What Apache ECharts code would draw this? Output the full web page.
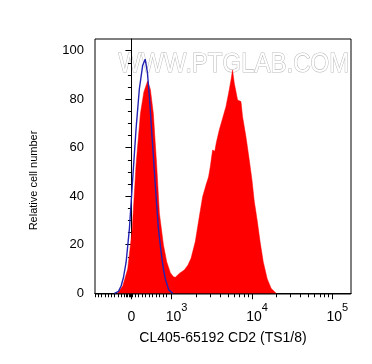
<!DOCTYPE html>
<html>
<head>
<meta charset="utf-8">
<script src="https://cdn.jsdelivr.net/npm/echarts@6/dist/echarts.min.js"></script>
<style>
  html, body { margin: 0; padding: 0; background: #fff; }
  #chart { width: 372px; height: 364px; }
</style>
</head>
<body>
<div id="chart"></div>
<script>
// x is in display units: 0 -> 0, 10^3 -> 0.5, one decade = 1
const xTickVals = [0, 0.5, 1.5, 2.5];
const xTickBase = ['0', '10', '10', '10'];
const xTickExp = ['', '3', '4', '5'];
const xMinorTicks = [
  -0.447, -0.410, -0.373, -0.329, -0.286, -0.248, -0.211, -0.168, -0.124,
  -0.087, -0.068, -0.050, -0.031, -0.012, 0.012,
  0.043, 0.087, 0.130, 0.174, 0.217, 0.261, 0.304, 0.348, 0.391, 0.435,
  0.801, 0.977, 1.102, 1.199, 1.278, 1.345, 1.403, 1.454,
  1.801, 1.977, 2.102, 2.199, 2.278, 2.345, 2.403, 2.454
];
const yTickVals = [0, 20, 40, 60, 80, 100];
const yMinorTicks = [5, 10, 15, 25, 30, 35, 45, 50, 55, 65, 70, 75, 85, 90, 95];

// CD2 stained sample (red fill)
const stainedX = [-0.174, -0.108, -0.046, 0.009, 0.058, 0.112, 0.155, 0.202, 0.236, 0.273,
  0.314, 0.348, 0.398, 0.439, 0.484, 0.522, 0.547, 0.596, 0.658, 0.702,
  0.742, 0.795, 0.845, 0.886, 0.928, 0.960, 0.981, 1.010, 1.037, 1.056,
  1.093, 1.134, 1.176, 1.209, 1.239, 1.258, 1.280, 1.321, 1.342, 1.363,
  1.383, 1.425, 1.466, 1.500, 1.528, 1.565, 1.602, 1.640, 1.689, 1.739, 1.801];
const stainedY = [0, 3, 10, 26, 53, 74, 83, 87.5, 84, 74,
  53, 33, 20, 13, 8.5, 6.8, 6.6, 8.2, 9.6, 11.5,
  14.4, 21.3, 31.6, 39.8, 44.6, 48, 52, 59, 58.5, 62,
  67.3, 72, 76.9, 82.4, 87.9, 92, 86.6, 79.7, 80.5, 79,
  72.8, 64.5, 55, 46.7, 38, 30, 21, 13, 6, 2, 0];

// isotype control (blue line)
const isoX = [-0.211, -0.161, -0.128, -0.099, -0.066, -0.025, 0.016, 0.058, 0.099, 0.140,
  0.171, 0.199, 0.224, 0.265, 0.307, 0.335, 0.369, 0.398, 0.422, 0.464, 0.513];
const isoY = [0, 0.8, 3, 6.5, 12.8, 26.6, 47.2, 67.8, 84.3, 93.9,
  96.5, 91, 81, 60.4, 39.8, 27, 17, 10, 6, 1.4, 0];

const font = 'Liberation Sans, Arial, sans-serif';
const xMin = -0.453, xMax = 2.732;
const yMin = -0.3, yMax = 104.8;

const chart = echarts.init(document.getElementById('chart'));

chart.setOption({
  backgroundColor: '#fff',
  animation: false,
  grid: {
    left: 95, right: 21, top: 39, bottom: 70,
    containLabel: false,
    outerBoundsMode: 'none',
    show: true, borderColor: '#000', borderWidth: 1, backgroundColor: 'transparent'
  },
  graphic: [{
    type: 'text',
    left: 118, top: 50, z: 0,
    scaleY: 1.15,
    style: {
      text: 'WWW.PTGLAB.COM',
      font: '24px ' + font,
      fill: '#ffffff',
      stroke: '#bcbcbc',
      lineWidth: 1
    }
  }],
  xAxis: [{
    type: 'value', min: xMin, max: xMax,
    name: 'CL405-65192 CD2 (TS1/8)',
    nameLocation: 'middle', nameGap: 37,
    nameTextStyle: { fontFamily: font, fontSize: 14, color: '#000' },
    axisLine: { show: true, lineStyle: { color: '#000', width: 1 } },
    axisTick: { show: true, customValues: xTickVals, length: 6, lineStyle: { color: '#000' } },
    splitLine: { show: false },
    axisLabel: {
      customValues: xTickVals,
      margin: 8,
      formatter: v => {
        const i = xTickVals.findIndex(t => Math.abs(t - v) < 1e-6);
        if (i < 0) return '';
        return xTickExp[i] ? '{p|' + xTickBase[i] + '}{s|' + xTickExp[i] + '}' : '{b|' + xTickBase[i] + '}';
      },
      rich: {
        b: { fontFamily: font, fontSize: 14, color: '#000', lineHeight: 22, verticalAlign: 'bottom' },
        p: { fontFamily: font, fontSize: 14, color: '#000', lineHeight: 22, verticalAlign: 'bottom', padding: [0, 0, 0, 10] },
        s: { fontFamily: font, fontSize: 11, color: '#000', lineHeight: 22, verticalAlign: 'top' }
      }
    }
  }, {
    type: 'value', min: xMin, max: xMax, position: 'bottom',
    axisLine: { show: false },
    axisTick: { show: true, customValues: xMinorTicks, length: 4, lineStyle: { color: '#000' } },
    axisLabel: { show: false },
    splitLine: { show: false }
  }],
  yAxis: [{
    type: 'value', min: yMin, max: yMax,
    name: 'Relative cell number',
    nameLocation: 'middle', nameGap: 56,
    nameTextStyle: { fontFamily: font, fontSize: 11, color: '#000', padding: [0, 28, 0, 0] },
    axisLine: { show: true, lineStyle: { color: '#000', width: 1 } },
    axisTick: { show: true, customValues: yTickVals, length: 6, lineStyle: { color: '#000' } },
    splitLine: { show: false },
    axisLabel: {
      customValues: yTickVals, margin: 11,
      fontFamily: font, fontSize: 13, color: '#000'
    }
  }, {
    type: 'value', min: yMin, max: yMax, position: 'left',
    axisLine: { show: false },
    axisTick: { show: true, customValues: yMinorTicks, length: 3.5, lineStyle: { color: '#000' } },
    axisLabel: { show: false },
    splitLine: { show: false }
  }],
  series: [{
    type: 'line',
    xAxisIndex: 0, yAxisIndex: 0,
    data: stainedX.map((x, i) => [x, stainedY[i]]),
    showSymbol: false,
    lineStyle: { width: 0.5, color: '#ff0000' },
    areaStyle: { color: '#ff0000', opacity: 1 },
    z: 2
  }, {
    type: 'line',
    xAxisIndex: 0, yAxisIndex: 0,
    data: isoX.map((x, i) => [x, isoY[i]]),
    showSymbol: false,
    lineStyle: { width: 1.4, color: '#2222b4' },
    z: 3
  }]
});
</script>
</body>
</html>
